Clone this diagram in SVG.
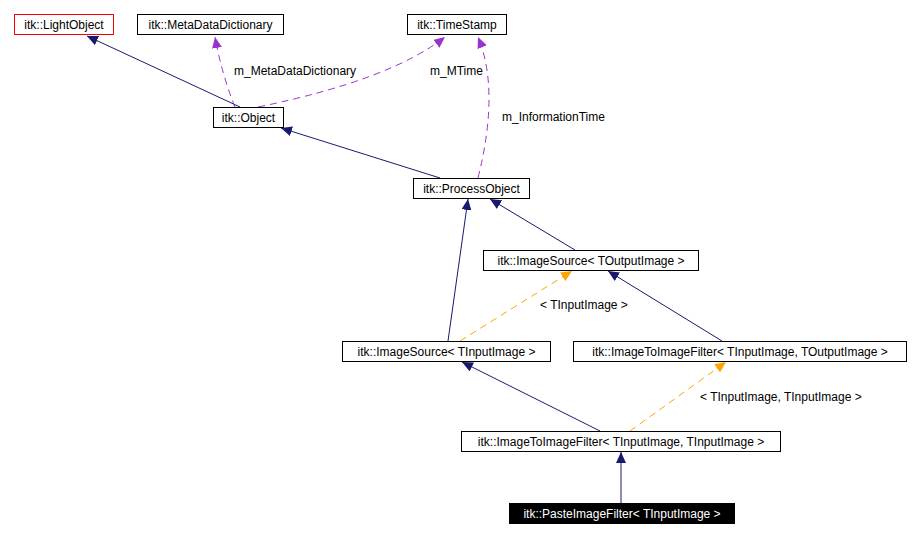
<svg xmlns="http://www.w3.org/2000/svg" width="920" height="537" viewBox="0 0 920 537">
<style>
text{font-family:"Liberation Sans",Arial,sans-serif;font-size:12px;fill:#000}
.n rect{fill:#fff;stroke:#000;stroke-width:1}
.s{fill:none;stroke:#191970;stroke-width:1}
.p{fill:none;stroke:#9a32cd;stroke-width:1;stroke-dasharray:7,5}
.o{fill:none;stroke:#ffa500;stroke-width:1;stroke-dasharray:7,5}
</style>
<defs>
<marker id="as" markerWidth="12" markerHeight="10" refX="11" refY="5" orient="auto" markerUnits="userSpaceOnUse"><path d="M0,0L11,5L0,10z" fill="#191970"/></marker>
<marker id="ap" markerWidth="12" markerHeight="10" refX="11" refY="5" orient="auto" markerUnits="userSpaceOnUse"><path d="M0,0L11,5L0,10z" fill="#9a32cd"/></marker>
<marker id="ao" markerWidth="12" markerHeight="10" refX="11" refY="5" orient="auto" markerUnits="userSpaceOnUse"><path d="M0,0L11,5L0,10z" fill="#ffa500"/></marker>
</defs>
<rect width="920" height="537" fill="#fff"/>
<g id="connectors">
<path class="s" d="M240,107L87,36" marker-end="url(#as)"/>
<path class="p" d="M235,107Q222,75 215,37" marker-end="url(#ap)"/>
<path class="p" d="M258,107Q390,80 445,37" marker-end="url(#ap)"/>
<path class="p" d="M478,178Q500,90 478,37" marker-end="url(#ap)"/>
<path class="s" d="M440,178L281,128" marker-end="url(#as)"/>
<path class="s" d="M575,250L490,199" marker-end="url(#as)"/>
<path class="s" d="M448,341L468,199" marker-end="url(#as)"/>
<path class="o" d="M460,341L572,271" marker-end="url(#ao)"/>
<path class="s" d="M722,341L608,271" marker-end="url(#as)"/>
<path class="s" d="M600,431L462,362" marker-end="url(#as)"/>
<path class="o" d="M630,431L726,362" marker-end="url(#ao)"/>
<path class="s" d="M621,503L621,452" marker-end="url(#as)"/>
<text x="234" y="75">m_MetaDataDictionary</text>
<text x="430" y="75">m_MTime</text>
<text x="502" y="121">m_InformationTime</text>
<text x="540" y="309">&lt; TInputImage &gt;</text>
<text x="700" y="401">&lt; TInputImage, TInputImage &gt;</text>
</g>
<g id="LightObject" class="n"><rect x="14.5" y="14.5" width="99" height="20" style="stroke:#ff0000"/><text x="64" y="29" text-anchor="middle">itk::LightObject</text></g>
<g id="MetaDataDictionary" class="n"><rect x="137.5" y="14.5" width="146" height="20"/><text x="210.5" y="29" text-anchor="middle">itk::MetaDataDictionary</text></g>
<g id="TimeStamp" class="n"><rect x="407.5" y="14.5" width="99" height="20"/><text x="457" y="29" text-anchor="middle">itk::TimeStamp</text></g>
<g id="Object" class="n"><rect x="213.5" y="107.5" width="70" height="20"/><text x="248.5" y="122" text-anchor="middle">itk::Object</text></g>
<g id="ProcessObject" class="n"><rect x="413.5" y="178.5" width="116" height="20"/><text x="471.5" y="193" text-anchor="middle">itk::ProcessObject</text></g>
<g id="ImageSourceOut" class="n"><rect x="483.5" y="250.5" width="215" height="20"/><text x="591" y="265" text-anchor="middle">itk::ImageSource&lt; TOutputImage &gt;</text></g>
<g id="ImageSourceIn" class="n"><rect x="342.5" y="341.5" width="208" height="20"/><text x="446.5" y="356" text-anchor="middle">itk::ImageSource&lt; TInputImage &gt;</text></g>
<g id="I2IOut" class="n"><rect x="573.5" y="341.5" width="333" height="20"/><text x="740" y="356" text-anchor="middle">itk::ImageToImageFilter&lt; TInputImage, TOutputImage &gt;</text></g>
<g id="I2IIn" class="n"><rect x="461.5" y="431.5" width="319" height="20"/><text x="621" y="446" text-anchor="middle">itk::ImageToImageFilter&lt; TInputImage, TInputImage &gt;</text></g>
<g id="Paste" class="n"><rect x="509.5" y="503.5" width="225" height="20" style="fill:#000"/><text x="622" y="518" text-anchor="middle" style="fill:#fff">itk::PasteImageFilter&lt; TInputImage &gt;</text></g>
</svg>
